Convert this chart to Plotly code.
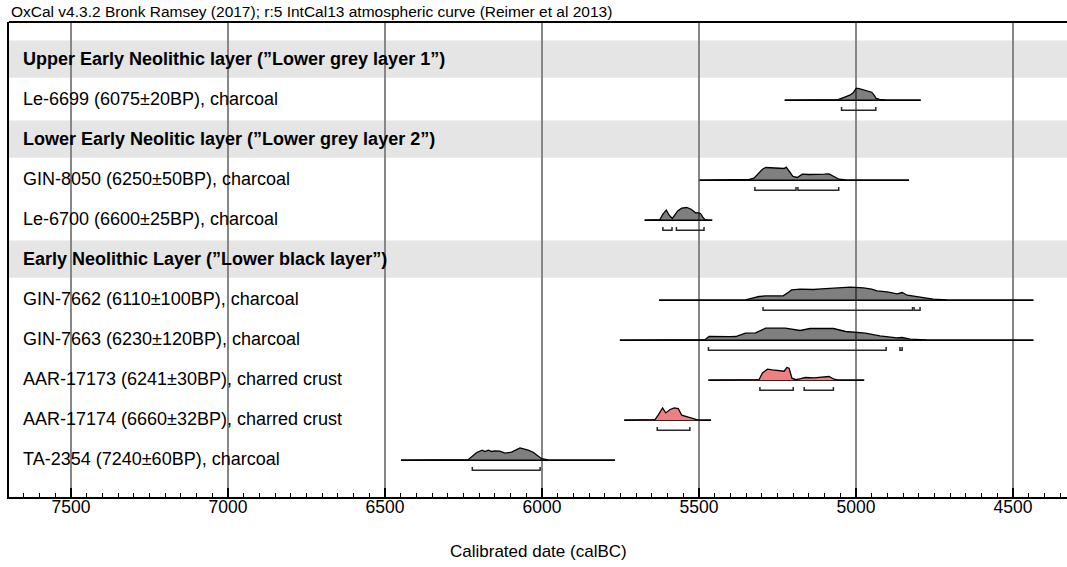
import plotly.graph_objects as go

FONT = "Liberation Sans, Arial, Helvetica, sans-serif"

# ---------------- data ----------------
row_labels = [
    "Upper Early Neolithic layer (\u201dLower grey layer 1\u201d)",
    "Le-6699 (6075\u00b120BP), charcoal",
    "Lower Early Neolitic layer (\u201dLower grey layer 2\u201d)",
    "GIN-8050 (6250\u00b150BP), charcoal",
    "Le-6700 (6600\u00b125BP), charcoal",
    "Early Neolithic Layer (\u201dLower black layer\u201d)",
    "GIN-7662 (6110\u00b1100BP), charcoal",
    "GIN-7663 (6230\u00b1120BP), charcoal",
    "AAR-17173 (6241\u00b130BP), charred crust",
    "AAR-17174 (6660\u00b132BP), charred crust",
    "TA-2354 (7240\u00b160BP), charcoal",
]
header_rows = [0, 2, 5]

# calibrated probability distributions (calBC years, relative probability)
le6699_years = [5227, 5070, 5057, 5040, 5020, 5009, 5003, 4999, 4990, 4977, 4960, 4950, 4940, 4937, 4925, 4907, 4850, 4794]
le6699_prob = [0, 0.1, 0.5, 2.5, 5, 7.3, 11, 12, 11.5, 10.3, 9.5, 8, 4, 2, 0.8, 0.3, 0.1, 0]
le6699_ranges = [(5046, 4937)]

gin8050_years = [5498, 5380, 5362, 5340, 5325, 5310, 5298, 5287, 5260, 5240, 5229, 5222, 5212, 5201, 5187, 5178, 5171, 5150, 5120, 5100, 5086, 5070, 5054, 5033, 5000, 4831]
gin8050_prob = [0, 0.1, 0.3, 0.8, 2, 7, 11, 12.7, 12.2, 11.8, 11.7, 13, 8, 3.7, 2.7, 4.5, 6, 5.7, 5.5, 6, 6.3, 4, 1, 0.3, 0.1, 0]
gin8050_ranges = [(5322, 5191), (5185, 5055)]

le6700_years = [5673, 5630, 5625, 5615, 5604, 5595, 5585, 5575, 5568, 5555, 5539, 5525, 5516, 5510, 5505, 5495, 5488, 5481, 5470, 5458]
le6700_prob = [0, 0.1, 0.5, 6, 10, 5, 1.7, 6, 9.3, 12, 12.7, 11, 8.3, 7.2, 7.5, 6.7, 3, 0.5, 0.1, 0]
le6700_ranges = [(5615, 5586), (5572, 5484)]

gin7662_years = [5627, 5400, 5352, 5330, 5309, 5288, 5260, 5232, 5215, 5205, 5178, 5136, 5110, 5082, 5050, 5018, 4976, 4950, 4933, 4901, 4869, 4853, 4837, 4805, 4786, 4754, 4711, 4600, 4435]
gin7662_prob = [0, 0.05, 0.3, 2, 3.7, 4.3, 4.2, 4.3, 8, 10.3, 11, 10.7, 11.3, 12, 12.8, 13, 12.3, 11, 9.3, 8.3, 6.3, 7.7, 5, 3.3, 2.3, 1, 0.3, 0.05, 0]
gin7662_ranges = [(5296, 4820), (4815, 4796)]

gin7663_years = [5752, 5500, 5481, 5468, 5436, 5400, 5383, 5352, 5320, 5300, 5288, 5225, 5205, 5178, 5146, 5072, 5033, 4970, 4924, 4870, 4853, 4828, 4775, 4650, 4435]
gin7663_prob = [0, 0.05, 0.5, 3.7, 3.3, 3.5, 3.7, 7, 7.3, 10, 12, 12, 11.3, 9.7, 11.7, 11.7, 8.7, 7, 4.3, 2.3, 2.7, 1, 0.3, 0.05, 0]
gin7663_ranges = [(5470, 4904), (4860, 4853)]

aar17173_years = [5470, 5330, 5309, 5298, 5282, 5266, 5240, 5229, 5220, 5213, 5204, 5192, 5176, 5161, 5134, 5113, 5086, 5070, 5059, 5000, 4974]
aar17173_prob = [0, 0.05, 0.5, 7.3, 11, 10.3, 9.7, 9, 12.7, 12, 2, 0.5, 1.5, 2.7, 2.3, 2.7, 3.7, 1, 0.2, 0.05, 0]
aar17173_ranges = [(5306, 5200), (5165, 5072)]

aar17174_years = [5738, 5660, 5640, 5630, 5616, 5606, 5592, 5579, 5566, 5555, 5534, 5518, 5505, 5480, 5462]
aar17174_prob = [0, 0.05, 0.5, 5, 12.3, 7.3, 10.7, 12.3, 11.7, 5, 3, 1, 0.3, 0.05, 0]
aar17174_ranges = [(5633, 5529)]

ta2354_years = [6449, 6260, 6235, 6208, 6190, 6182, 6171, 6160, 6150, 6134, 6118, 6097, 6070, 6044, 6028, 6001, 5980, 5900, 5768]
ta2354_prob = [0, 0.05, 0.5, 7.7, 10, 8.7, 10, 8.7, 9.3, 9, 7, 8, 12.3, 10, 8, 1.5, 0.3, 0.05, 0]
ta2354_ranges = [(6222, 6006)]

samples = [
    (1, le6699_years, le6699_prob, le6699_ranges, "grey"),
    (3, gin8050_years, gin8050_prob, gin8050_ranges, "grey"),
    (4, le6700_years, le6700_prob, le6700_ranges, "grey"),
    (6, gin7662_years, gin7662_prob, gin7662_ranges, "grey"),
    (7, gin7663_years, gin7663_prob, gin7663_ranges, "grey"),
    (8, aar17173_years, aar17173_prob, aar17173_ranges, "red"),
    (9, aar17174_years, aar17174_prob, aar17174_ranges, "red"),
    (10, ta2354_years, ta2354_prob, ta2354_ranges, "grey"),
]

tick_values = [7500, 7000, 6500, 6000, 5500, 5000, 4500]

# ---------------- styling ----------------
fills = {"grey": "rgba(0,0,0,0.5)", "red": "rgb(240,128,128)"}
PROB_SCALE = 1.0 / 40.0   # one probability unit -> 1 px (row pitch = 40 px)
BASE_OFF = 0.03
BRACKET_OFF = 0.25
BRACKET_TICK = 0.08

fig = go.Figure()

for row, years, prob, ranges, col in samples:
    base = row + BASE_OFF
    fig.add_trace(go.Scatter(
        x=[years[0], years[-1]], y=[base, base], mode="lines",
        line=dict(color="black", width=1.6), hoverinfo="skip", showlegend=False))
    fig.add_trace(go.Scatter(
        x=years, y=[base - p * PROB_SCALE for p in prob], mode="lines",
        fill="toself", fillcolor=fills[col],
        line=dict(color="black", width=1.3), hoverinfo="skip", showlegend=False))
    bx, by = [], []
    yb = base + BRACKET_OFF
    for a, b in ranges:
        bx += [a, a, b, b, None]
        by += [yb - BRACKET_TICK, yb, yb, yb - BRACKET_TICK, None]
    fig.add_trace(go.Scatter(
        x=bx, y=by, mode="lines", line=dict(color="rgb(40,40,40)", width=1.5),
        hoverinfo="skip", showlegend=False))

shapes = []
for r in header_rows:
    shapes.append(dict(type="rect", xref="paper", yref="y", x0=0, x1=1,
                       y0=r - 0.46, y1=r + 0.47, fillcolor="rgb(229,229,229)",
                       line=dict(width=0), layer="below"))
shapes.append(dict(type="line", xref="paper", yref="paper", x0=0, x1=1, y0=1, y1=1,
                   line=dict(color="black", width=2)))

annotations = []
for i, lab in enumerate(row_labels):
    is_h = i in header_rows
    annotations.append(dict(
        x=0.011, xref="paper", y=i, yref="y", xanchor="left", yanchor="middle",
        text=f"<b>{lab}</b>" if is_h else lab, showarrow=False,
        font=dict(family=FONT, size=18, color="black")))
annotations.append(dict(
    x=0, xref="paper", y=1 + 10 / 475, yref="paper", xanchor="left", yanchor="middle",
    text="OxCal v4.3.2 Bronk Ramsey (2017); r:5 IntCal13 atmospheric curve (Reimer et al 2013)",
    showarrow=False, font=dict(family=FONT, size=15.5, color="black")))
annotations.append(dict(
    x=0.5, xref="paper", y=-54 / 475, yref="paper", xanchor="center", yanchor="middle",
    text="Calibrated date (calBC)", showarrow=False,
    font=dict(family=FONT, size=17, color="black")))

fig.update_layout(
    width=1067, height=567,
    margin=dict(l=9, r=0, t=22, b=70),
    paper_bgcolor="white", plot_bgcolor="white",
    shapes=shapes, annotations=annotations, showlegend=False,
    xaxis=dict(
        range=[7697.5, 4328], tickvals=tick_values,
        ticktext=[str(v) for v in tick_values],
        ticks="inside", ticklen=9, tickwidth=2, tickcolor="black",
        ticklabelstandoff=-7,
        showgrid=True, gridcolor="rgb(135,135,135)", gridwidth=1.5,
        showline=True, linecolor="black", linewidth=2, zeroline=False,
        tickfont=dict(family=FONT, size=17.5, color="black"),
        minor=dict(dtick=50, tick0=0, ticks="inside", ticklen=4, tickwidth=1,
                   tickcolor="black", showgrid=False),
    ),
    yaxis=dict(
        range=[10.95, -0.925], showgrid=False, zeroline=False, showticklabels=False,
        ticks="", showline=True, linecolor="black", linewidth=2,
    ),
)

fig.write_html("out.html")
